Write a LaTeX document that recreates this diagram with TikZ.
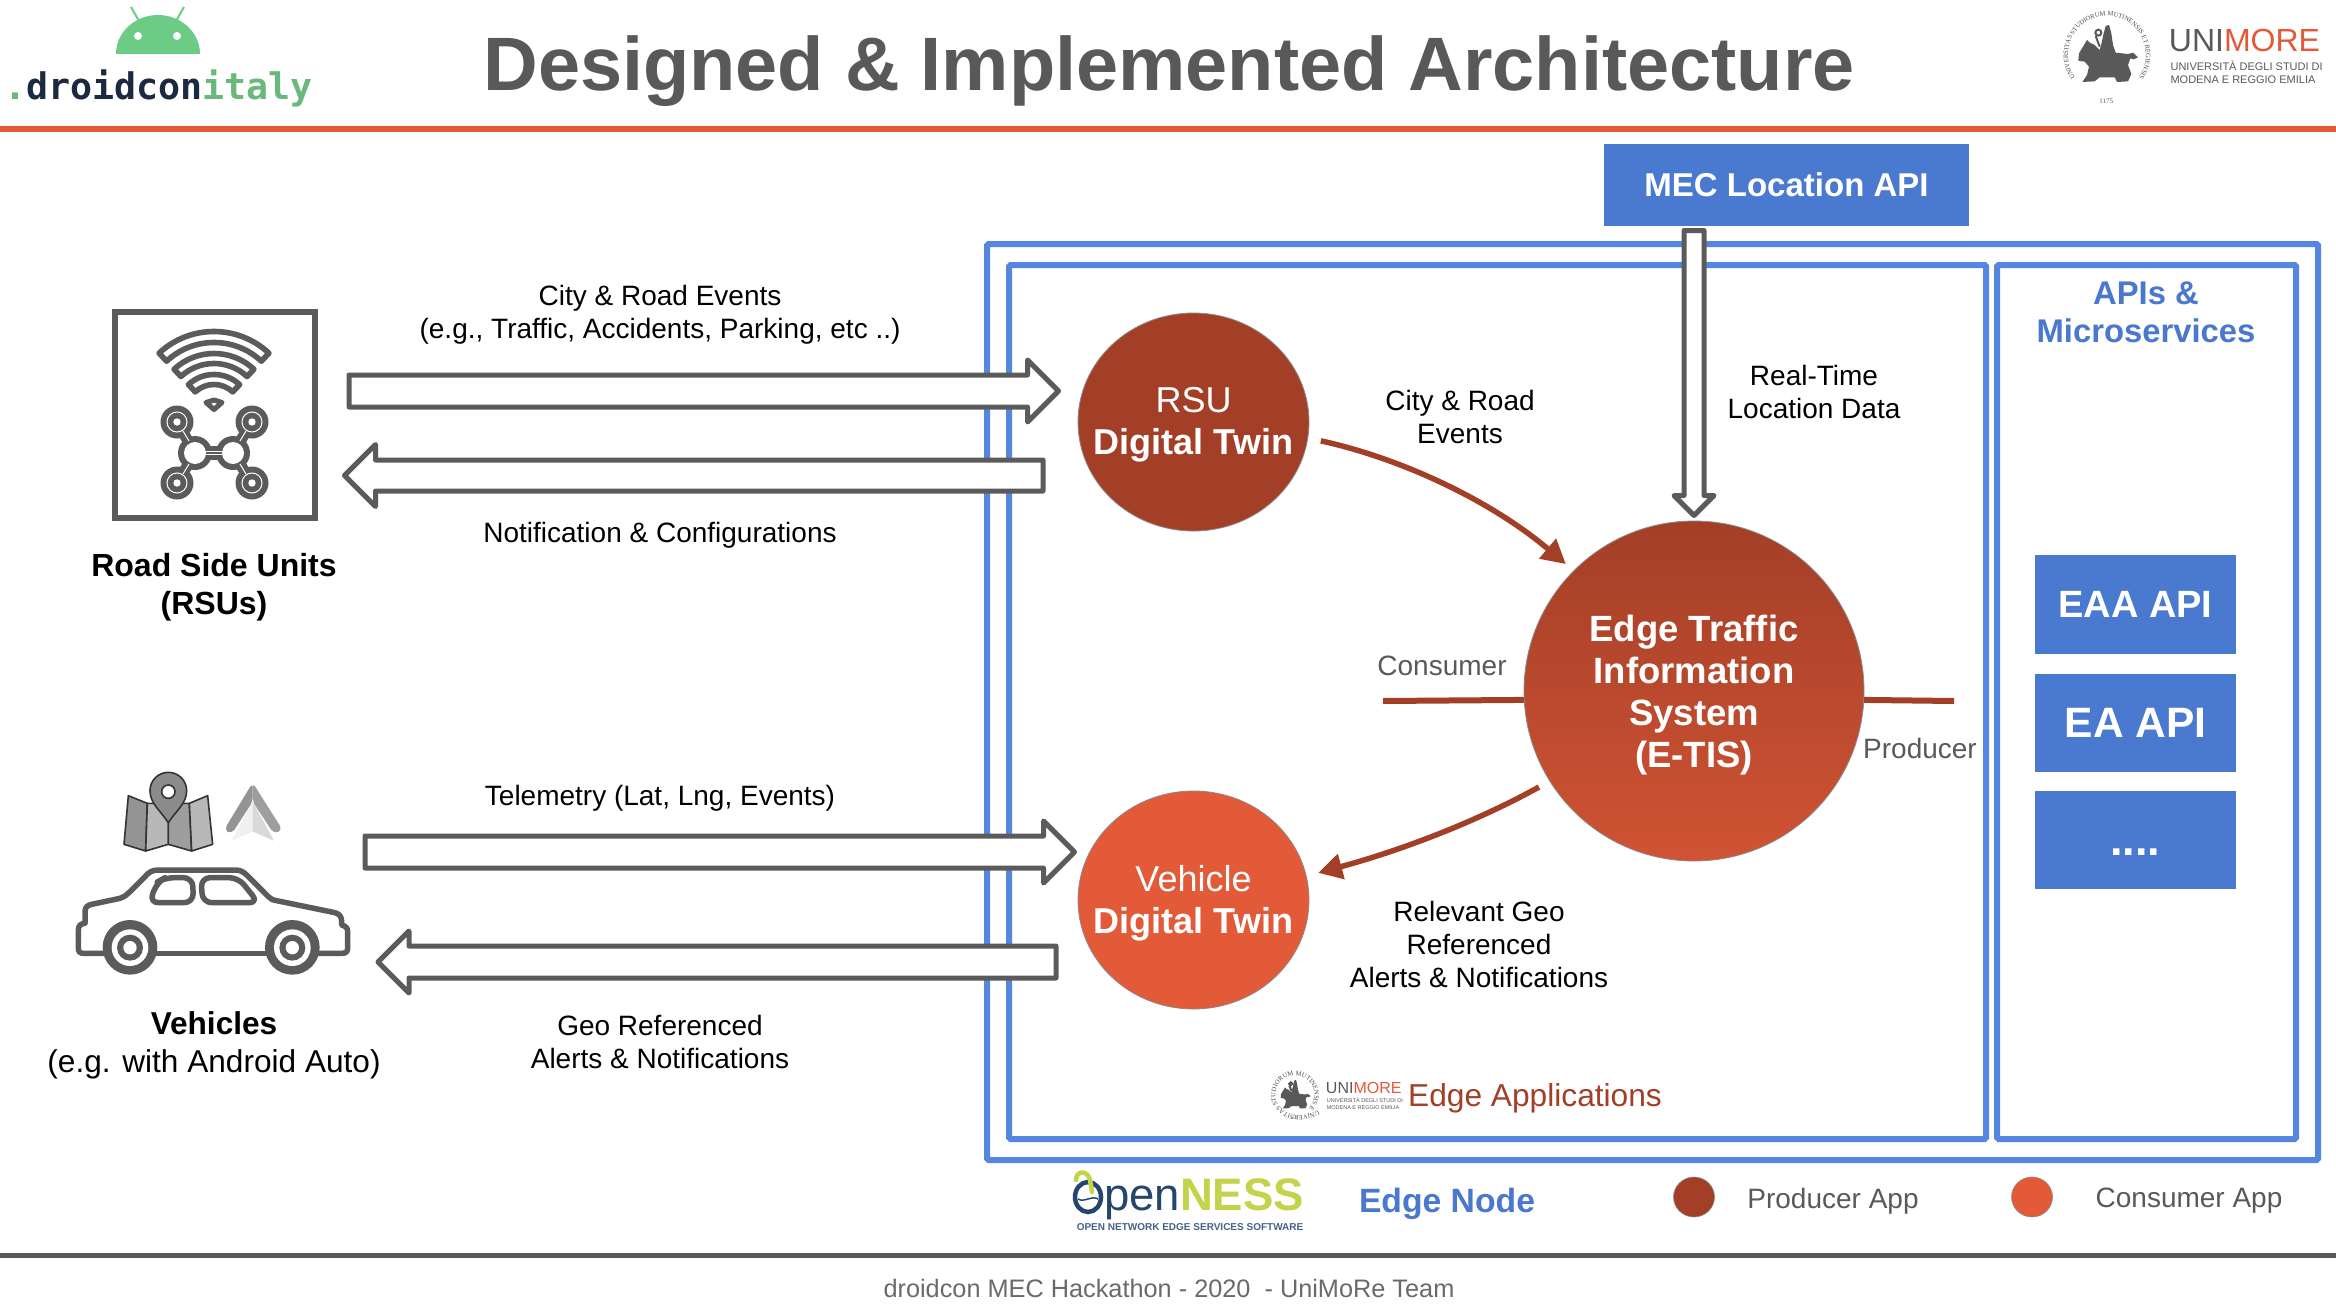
\documentclass[tikz,border=0pt]{standalone}
\usepackage{fontspec}
\setmainfont{Liberation Sans}
\newfontfamily\sealfont{Liberation Serif}
\newfontfamily\droidfont{DejaVu Sans Mono}
\usetikzlibrary{calc,arrows.meta,shapes.geometric,decorations.text}
\definecolor{edgeblue}{HTML}{5687E0}
\definecolor{boxblue}{HTML}{4A79D0}
\definecolor{textblue}{HTML}{4A78CE}
\definecolor{producer}{HTML}{A33F27}
\definecolor{consumer}{HTML}{E35A38}
\definecolor{midred}{HTML}{D05334}
\definecolor{ink}{HTML}{595959}
\definecolor{icon}{HTML}{5B5B5B}
\definecolor{andgreen}{HTML}{6CCB84}
\definecolor{itgreen}{HTML}{69B87C}
\definecolor{navy}{HTML}{1B2A41}
\definecolor{opennavy}{HTML}{24466E}
\definecolor{opengreen}{HTML}{C3D44B}
\tikzset{
  lbl/.style={inner sep=0pt,align=center,font=\fontsize{28}{33}\selectfont,text=black},
  greylbl/.style={lbl,text=ink},
  bluepanel/.style={draw=edgeblue,line width=6pt,rounded corners=1.5pt},
  apibox/.style={fill=boxblue,inner sep=0pt,text=white,font=\bfseries\fontsize{38}{42}\selectfont},
  twin/.style={shape=ellipse,draw=ink!70,line width=.8pt,inner sep=0pt,minimum width=231pt,minimum height=218pt},
  twintext/.style={inner sep=0pt,align=center,text=white,font=\fontsize{36}{42}\selectfont},
  hollow/.style={draw=icon,fill=white,line width=5pt,line join=round},
  flow/.style={draw=producer,line width=5.5pt,-{Triangle[length=24pt,width=25pt]}},
  stub/.style={draw=producer,line width=6pt},
  iconline/.style={draw=icon,line width=5.5pt,line join=round,line cap=round},
  dot/.style={shape=ellipse,draw=ink!70,line width=.6pt,inner sep=0pt,minimum width=41pt,minimum height=40pt}
}
% hollow block arrow between two named points: from, to, shaft half, head half, head length
\newcommand{\hollowlink}[5]{%
  \coordinate (hb) at ($(#2)!#5pt!(#1)$);
  \draw[hollow] ($(#1)!#3pt!90:(#2)$) -- ($(hb)!#3pt!90:(#2)$) -- ($(hb)!#4pt!90:(#2)$) -- (#2)
    -- ($(hb)!#4pt!-90:(#2)$) -- ($(hb)!#3pt!-90:(#2)$) -- ($(#1)!#3pt!-90:(#2)$) -- cycle;}
% university logo, local units are those of a 3x crop, origin at the seal centre
\newcommand{\unimorelogo}{%
  \begin{scope}[x=1pt,y=1pt]
    \path[decorate,decoration={text along path,text align=center,
      text={|\sealfont\fontsize{6.6}{7}\selectfont\color{ink!85!black}|UNIVERSITAS STUDIORUM MUTINENSIS ET REGIENSIS}}]
      (228:39pt) arc[start angle=228,end angle=-48,radius=39pt];
  \end{scope}
  \begin{scope}[x=.33333pt,y=-.33333pt,shift={(-322,-165)}]
    \fill[ink] (236,182) -- (238,160) -- (250,140) -- (262,120) -- (270,128) -- (285,135) -- (300,150) -- (306,128) -- (312,100) -- (318,78) -- (328,75) -- (335,100) -- (340,135) -- (348,158) -- (385,162) -- (400,158) -- (415,172) -- (402,178) -- (392,175) -- (385,195) -- (395,222) -- (385,244) -- (352,246) -- (345,232) -- (300,232) -- (285,244) -- (248,246) -- (262,225) -- (268,200) -- (255,185) -- cycle;
    \draw[ink,line width=2pt] (300,140) -- (288,108);
    \draw[ink,line width=2pt] (296,98) circle[radius=9];
    \node[font=\sealfont\fontsize{7}{8}\selectfont,text=ink,inner sep=0pt] at (320,305) {1175};
    \node[anchor=base west,inner sep=0pt,font=\fontsize{32}{32}\selectfont,text=ink] at (507,155) {UNI\textcolor{consumer}{MORE}};
    \node[anchor=base west,inner sep=0pt,font=\fontsize{11}{11}\selectfont,text=ink] at (512,212) {UNIVERSITÀ DEGLI STUDI DI};
    \node[anchor=base west,inner sep=0pt,font=\fontsize{11}{11}\selectfont,text=ink] at (512,250) {MODENA E REGGIO EMILIA};
  \end{scope}}
\begin{document}
\begin{tikzpicture}[x=1pt,y=-1pt]
\useasboundingbox (0,0) rectangle (2336,1308);
\fill[white] (0,0) rectangle (2336,1308);

% header and footer
\draw[consumer,line width=6pt] (0,129) -- (2336,129);
\draw[ink,line width=5pt] (0,1255) -- (2336,1255);
\node[inner sep=0pt,text=ink,font=\bfseries\fontsize{75.7}{80}\selectfont] (title) at (1169,71) {Designed \& Implemented Architecture};
\node[inner sep=0pt,text=ink!90,font=\fontsize{25.3}{30}\selectfont] (footer) at (1169,1288) {droidcon MEC Hackathon - 2020 \ - UniMoRe Team};

% droidcon logo
\begin{scope}
  \fill[andgreen] (116,54) arc[start angle=180,end angle=0,x radius=42,y radius=-39] -- cycle;
  \fill[white] (138,36) circle[radius=4pt] (177,36) circle[radius=4pt];
  \draw[andgreen,line width=2pt] (131,7) -- (139,21) (184,7) -- (176,21);
\end{scope}
\node[anchor=base west,inner sep=0pt,font=\droidfont\bfseries\fontsize{36.6}{40}\selectfont,text=navy] (droid) at (4,100) {\textcolor{itgreen}{.}droidcon\textcolor{itgreen}{italy}};

% university logo, top right
\begin{scope}[shift={(2107,55)}]
  \unimorelogo
\end{scope}

% panels
\draw[bluepanel] (987,244) rectangle (2318,1160);
\draw[bluepanel] (1009,265) rectangle (1986,1139);
\draw[bluepanel] (1997,265) rectangle (2296,1139);

% MEC box and api boxes
\node[fill=boxblue,inner sep=0pt,minimum width=365pt,minimum height=82pt,text=white,font=\bfseries\fontsize{33}{36}\selectfont] (mec) at (1786.5,185) {MEC Location API};
\node[apibox,minimum width=201pt,minimum height=99pt] (eaa) at (2135.5,604.5) {EAA API};
\node[apibox,minimum width=201pt,minimum height=98pt,font=\bfseries\fontsize{42.5}{46}\selectfont] (ea) at (2135.5,723) {EA API};
\node[apibox,minimum width=201pt,minimum height=98pt] (more) at (2135,840) {};
\node[anchor=base,inner sep=0pt,text=white,font=\bfseries\fontsize{45}{48}\selectfont] (moredots) at (2135,855) {....};
\node[lbl,text=textblue,font=\bfseries\fontsize{32.8}{38}\selectfont] (apis) at (2146,312) {APIs \&\\Microservices};

% twins and E-TIS
\node[twin,fill=producer] (rsu) at (1193.5,422) {};
\node[twintext] (rsutext) at (1193.5,425) {RSU\\\bfseries Digital Twin};
\node[twin,fill=consumer] (veh) at (1193.5,900) {};
\node[twintext] (vehtext) at (1193.5,903) {Vehicle\\\bfseries Digital Twin};
\node[twin,minimum width=340pt,minimum height=340pt,top color=producer,bottom color=midred] (etis) at (1694,691) {};
\node[twintext,font=\bfseries\fontsize{36.5}{42}\selectfont] (etistext) at (1694,695) {Edge Traffic\\Information\\System\\(E-TIS)};

% producer / consumer stubs
\coordinate (consEnd) at (1383,701);
\coordinate (prodEnd) at (1954,701);
\draw[stub] (consEnd) -- (etis.183.4);
\draw[stub] (etis.-3.4) -- (prodEnd);
\node[greylbl] (consumerlbl) at (1442,666) {Consumer};
\node[greylbl] (producerlbl) at (1920,748) {Producer};

% curved flows
\draw[flow,shorten <=13pt,shorten >=10pt] (rsu.-8) .. controls (1400,458) and (1490,500) .. (etis.135);
\draw[flow,shorten <=12pt,shorten >=12pt] (etis.212) .. controls (1470,825) and (1395,852) .. (veh.12);

% road side unit icon
\node[draw=icon,line width=6pt,minimum width=200pt,minimum height=206pt,inner sep=0pt] (rsubox) at (215,415) {};
\begin{scope}[shift={(214,412)},y=1pt]
  \foreach \ro/\ri in {80.5/69.5, 58.5/48.5, 37.5/27.5}{
    \draw[icon,line width=5.6pt,line join=round] (47:\ro pt) arc[start angle=47,end angle=133,radius=\ro pt] -- (133:\ri pt) arc[start angle=133,end angle=47,radius=\ri pt] -- cycle;
  }
  \draw[icon,line width=5pt,line join=round,fill=white] (0,2.5) -- (-8,9.5) -- (0,12) -- (8,9.5) -- cycle;
\end{scope}
\begin{scope}
  \draw[icon,line width=11pt] (177,422) -- (195,453) (252,422) -- (233,453) (177,483) -- (195,453) (252,483) -- (233,453);
  \draw[icon,line width=14pt] (195,453) -- (233,453);
  \foreach \hx in {195,233}{
    \fill[icon] (\hx,453) circle[radius=17pt];
    \fill[white] (\hx,453) circle[radius=11pt];
  }
  \draw[white,line width=1pt] (206,451.5) -- (222,451.5) (206,454.5) -- (222,454.5);
  \foreach \nx/\ny in {177/422,252/422,177/483,252/483}{
    \fill[icon] (\nx,\ny) circle[radius=16.5pt];
    \draw[white,line width=1pt] (\nx,\ny) circle[radius=10pt];
    \fill[white] (\nx,\ny) circle[radius=3.7pt];
  }
  \draw[white,line width=1pt] (183,431) -- (189,441) (246,431) -- (240,441) (183,474) -- (189,464) (246,474) -- (240,464);
\end{scope}
\node[lbl,font=\bfseries\fontsize{32}{38}\selectfont] (rsulbl) at (214,587) {Road Side Units\\(RSUs)};

% vehicle icon, in the units of a 3x crop
\begin{scope}[shift={(50,750)},x=.33333pt,y=-.33333pt]
  % map
  \begin{scope}[draw=black!80,line width=1.6pt,line join=round]
    \filldraw[fill=black!42] (235,137) -- (292,160) -- (287,303) -- (222,283) -- cycle;
    \filldraw[fill=black!28] (292,160) -- (345,160) -- (355,218) -- (355,283) -- (287,303) -- cycle;
    \filldraw[fill=black!38] (365,160) -- (418,160) -- (425,303) -- (355,283) -- (355,218) -- cycle;
    \filldraw[fill=black!28] (418,160) -- (473,137) -- (488,283) -- (425,303) -- cycle;
    \filldraw[fill=black!45] (355,218) .. controls (330,180) and (300,160) .. (300,122) arc[start angle=180,end angle=360,radius=55] .. controls (410,160) and (380,180) .. cycle;
    \filldraw[fill=white] (355,125) circle[radius=20];
  \end{scope}
  % navigation arrow
  \fill[black!42,rounded corners=5pt] (608,98) -- (522,240) -- (545,252) -- (608,155) -- cycle;
  \fill[black!38,rounded corners=5pt] (608,98) -- (698,240) -- (672,252) -- (608,155) -- cycle;
  \fill[black!6] (608,155) -- (545,272) -- (608,245) -- cycle;
  \fill[black!15] (608,155) -- (672,272) -- (608,245) -- cycle;
  % car
  \draw[iconline] (165,610) -- (100,610) .. controls (90,610) and (85,605) .. (85,595) -- (85,540) .. controls (85,525) and (95,520) .. (105,520) -- (105,485) .. controls (105,470) and (115,465) .. (125,463) -- (210,445) .. controls (225,440) and (232,432) .. (240,425) -- (285,380) .. controls (295,368) and (305,360) .. (325,360) -- (555,360) .. controls (570,360) and (580,365) .. (590,375) -- (655,440) .. controls (662,447) and (668,450) .. (680,452) -- (855,488) .. controls (870,492) and (875,502) .. (875,515) -- (875,525) .. controls (888,528) and (893,535) .. (893,545) -- (893,595) .. controls (893,605) and (888,610) .. (875,610) -- (805,610);
  \draw[iconline] (320,610) -- (650,610);
  \draw[iconline,rounded corners=9pt] (345,383) -- (428,383) -- (430,458) -- (298,458) -- (322,396) -- cycle;
  \draw[iconline,rounded corners=9pt] (453,383) -- (565,383) -- (625,458) -- (458,458) -- cycle;
  \foreach \wx in {240,727}{
    \fill[icon] (\wx,592) circle[radius=82];
    \fill[white] (\wx,593) circle[radius=55];
    \fill[icon] (\wx,593) circle[radius=39];
    \fill[white] (\wx,593) circle[radius=20];
  }
\end{scope}
\node[lbl,font=\fontsize{31.6}{38}\selectfont] (vehlbl) at (214,1045) {\textbf{Vehicles}\\(e.g. with Android Auto)};

% hollow arrows
\coordinate (rsuOutA) at (349,391);
\coordinate (rsuInA) at (1058.5,391);
\hollowlink{rsuOutA}{rsuInA}{16}{31}{31}
\coordinate (rsuOutB) at (1043,475.5);
\coordinate (rsuInB) at (344.5,475.5);
\hollowlink{rsuOutB}{rsuInB}{15.5}{31}{31}
\coordinate (vehOutA) at (365,852);
\coordinate (vehInA) at (1074.5,852);
\hollowlink{vehOutA}{vehInA}{16}{31}{31}
\coordinate (vehOutB) at (1056,962);
\coordinate (vehInB) at (378,962);
\hollowlink{vehOutB}{vehInB}{16}{31}{31}
\coordinate (mecOut) at (1694,230.5);
\coordinate (etisIn) at (1694,515.5);
\hollowlink{mecOut}{etisIn}{10}{20}{20}

% labels
\node[lbl] (l1) at (660,315) {City \& Road Events\\(e.g., Traffic, Accidents, Parking, etc ..)};
\node[lbl] (l2) at (660,535) {Notification \& Configurations};
\node[lbl] (l3) at (660,798) {Telemetry (Lat, Lng, Events)};
\node[lbl] (l4) at (660,1042) {Geo Referenced\\Alerts \& Notifications};
\node[lbl] (l5) at (1460,417) {City \& Road\\Events};
\node[lbl] (l6) at (1814,392) {Real-Time\\Location Data};
\node[lbl] (l7) at (1479,944) {Relevant Geo\\Referenced\\Alerts \& Notifications};

% edge applications line
\begin{scope}[shift={(1295,1095)},scale=.5,transform shape]
  \unimorelogo
\end{scope}
\node[inner sep=0pt,text=producer,font=\fontsize{31.7}{36}\selectfont] (edgeapps) at (1535,1098) {Edge Applications};

% openness logo
\draw[opennavy,line width=4.5pt] (1088,1197) ellipse[x radius=13,y radius=15];
\draw[opennavy,line width=1.5pt] (1078,1199) .. controls (1084,1203) and (1092,1195) .. (1098,1199);
\draw[opengreen,line width=4.5pt,line cap=round] (1076,1180) .. controls (1076,1170) and (1088,1170) .. (1090,1180) -- (1092,1192);
\node[anchor=base west,inner sep=0pt,font=\fontsize{45.5}{48}\selectfont,text=opennavy] (open) at (1104,1210) {pen\textcolor{opengreen}{\bfseries NESS}};
\node[inner sep=0pt,font=\bfseries\fontsize{10}{11}\selectfont,text=opennavy!85] (openlbl) at (1190,1227) {OPEN NETWORK EDGE SERVICES SOFTWARE};
\node[inner sep=0pt,text=textblue,font=\bfseries\fontsize{33.7}{38}\selectfont] (edgenode) at (1447,1204) {Edge Node};

% legend
\node[dot,fill=producer] (legP) at (1694,1197) {};
\node[greylbl] (legPl) at (1833,1201) {Producer App};
\node[dot,fill=consumer] (legC) at (2032,1197) {};
\node[greylbl] (legCl) at (2189,1201) {Consumer App};
\end{tikzpicture}
\end{document}
